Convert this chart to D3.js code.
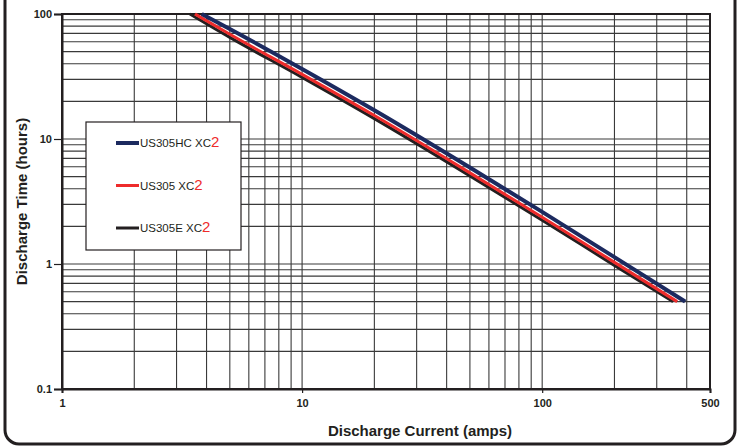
<!DOCTYPE html>
<html>
<head>
<meta charset="utf-8">
<script src="https://cdn.jsdelivr.net/npm/d3@7"></script>
<style>
  html, body { margin: 0; padding: 0; background: #fff; }
  svg { display: block; font-family: "Liberation Sans", Arial, Helvetica, sans-serif; }
</style>
</head>
<body>
<div class="chart"></div>
<script>
'use strict';

// tick labels
var currentTicks = [1, 10, 100, 500];
var timeTicks = [0.1, 1, 10, 100];

// series (amps -> hours)
var seriesNames = ['US305HC XC', 'US305 XC', 'US305E XC'];
var seriesColors = ['#1c2a5f', '#ee2b2b', '#231f20'];

var hcCurrent = [3.82, 5, 10, 20, 50, 100, 200, 394];
var hcHours   = [100, 75.8, 36.3, 16.96, 5.91, 2.61, 1.136, 0.5];

var stdCurrent = [3.58, 5, 10, 20, 50, 100, 200, 365];
var stdHours   = [100, 68.8, 32.9, 15.4, 5.36, 2.37, 1.03, 0.5];

var eCurrent = [3.41, 5, 10, 20, 50, 100, 200, 351];
var eHours   = [100, 65, 31.1, 14.55, 5.07, 2.24, 0.975, 0.5];

var width = 742, height = 447;
var margin = {top: 14, right: 32, bottom: 58, left: 62};
var innerW = width - margin.left - margin.right
  , innerH = height - margin.top - margin.bottom;

var svg = d3.select('.chart').append('svg')
  .attr('width', width)
  .attr('height', height);

// rounded outer frame (open at the top)
var r = 14, fx0 = 5, fx1 = 735, fy1 = 444;
svg.append('path')
  .attr('d', 'M' + fx0 + ',-10 V' + (fy1 - r) +
    ' A' + r + ',' + r + ' 0 0 0 ' + (fx0 + r) + ',' + fy1 +
    ' H' + (fx1 - r) +
    ' A' + r + ',' + r + ' 0 0 0 ' + fx1 + ',' + (fy1 - r) +
    ' V-10')
  .attr('fill', 'none')
  .attr('stroke', '#231f20')
  .attr('stroke-width', 3);

var g = svg.append('g')
  .attr('transform', 'translate(' + margin.left + ',' + margin.top + ')');

var x = d3.scaleLog().domain([1, 500]).range([0, innerW]);
var y = d3.scaleLog().domain([0.1, 100]).range([innerH, 0]);

// grid
g.append('g').selectAll('line').data(x.ticks())
  .enter().append('line')
    .attr('x1', function(d) { return x(d); })
    .attr('x2', function(d) { return x(d); })
    .attr('y1', 0).attr('y2', innerH)
    .attr('stroke', '#3a3a3a').attr('stroke-width', 1.1);

g.append('g').selectAll('line').data(y.ticks())
  .enter().append('line')
    .attr('y1', function(d) { return y(d); })
    .attr('y2', function(d) { return y(d); })
    .attr('x1', 0).attr('x2', innerW)
    .attr('stroke', '#3a3a3a').attr('stroke-width', 1.1);

// plot border
g.append('rect')
  .attr('width', innerW).attr('height', innerH)
  .attr('fill', 'none')
  .attr('stroke', '#231f20').attr('stroke-width', 2);

// axes
var fmt = function(d) { return d3.format('~g')(d); };

var xAxis = g.append('g')
  .attr('transform', 'translate(0,' + innerH + ')')
  .call(d3.axisBottom(x).tickValues(currentTicks).tickFormat(fmt).tickSize(4).tickPadding(6));
var yAxis = g.append('g')
  .call(d3.axisLeft(y).tickValues(timeTicks).tickFormat(fmt).tickSize(8).tickPadding(2));

[xAxis, yAxis].forEach(function(a) {
  a.select('.domain').attr('stroke', '#231f20').attr('stroke-width', 2);
  a.selectAll('.tick line').attr('stroke', '#231f20').attr('stroke-width', 1.2);
  a.selectAll('.tick text')
    .attr('fill', '#231f20')
    .style('font-size', '11px')
    .style('font-weight', 'bold');
});

// series lines
var seriesData = [
  d3.zip(hcCurrent, hcHours),
  d3.zip(stdCurrent, stdHours),
  d3.zip(eCurrent, eHours)
];
var widths = [4, 3, 3];

var line = d3.line()
  .x(function(d) { return x(d[0]); })
  .y(function(d) { return y(d[1]); })
  .curve(d3.curveMonotoneX);

[2, 1, 0].forEach(function(i) {
  g.append('path')
    .datum(seriesData[i])
    .attr('d', line)
    .attr('fill', 'none')
    .attr('stroke', seriesColors[i])
    .attr('stroke-width', widths[i]);
});

// legend
var legend = svg.append('g').attr('transform', 'translate(86,122)');
legend.append('rect')
  .attr('width', 155).attr('height', 128)
  .attr('fill', '#fff')
  .attr('stroke', '#231f20').attr('stroke-width', 1.2);

var rows = legend.selectAll('.row').data(seriesNames)
  .enter().append('g')
    .attr('transform', function(d, i) { return 'translate(0,' + (21 + i * 42.5) + ')'; });

rows.append('line')
  .attr('x1', 30).attr('x2', 53)
  .attr('stroke', function(d, i) { return seriesColors[i]; })
  .attr('stroke-width', function(d, i) { return widths[i]; });

var label = rows.append('text')
  .attr('x', 54).attr('dy', '0.36em')
  .style('font-size', '11.5px')
  .attr('fill', '#231f20');
label.append('tspan').text(function(d) { return d; });
label.append('tspan')
  .attr('fill', '#ee2b2b')
  .style('font-size', '15px')
  .text('2');

// axis titles
svg.append('text')
  .attr('x', 420)
  .attr('y', 436)
  .attr('text-anchor', 'middle')
  .style('font-size', '15px').style('font-weight', 'bold')
  .attr('fill', '#231f20')
  .text('Discharge Current (amps)');

svg.append('text')
  .attr('transform', 'translate(27,' + (margin.top + innerH / 2) + ') rotate(-90)')
  .attr('text-anchor', 'middle')
  .style('font-size', '15px').style('font-weight', 'bold')
  .attr('fill', '#231f20')
  .text('Discharge Time (hours)');
</script>
</body>
</html>
